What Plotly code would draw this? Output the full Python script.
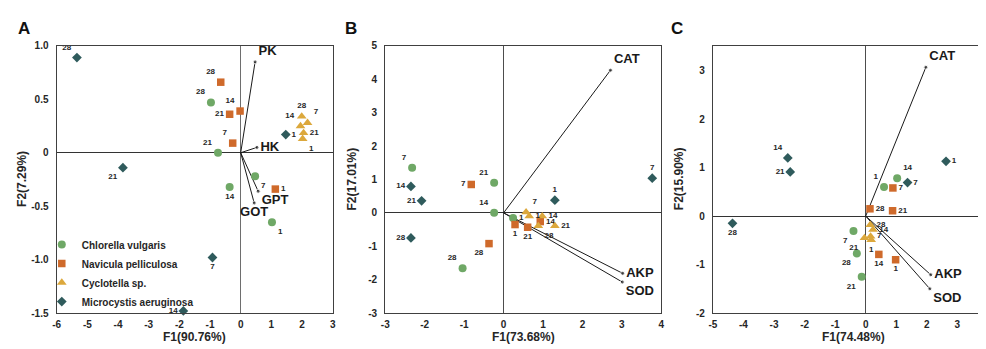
import plotly.graph_objects as go

days = [1, 7, 14, 21, 28]
series_names = ["Chlorella vulgaris", "Navicula pelliculosa", "Cyclotella sp.", "Microcystis aeruginosa"]

# ---- Panel A ----
chl_A_x = [1.02, 0.47, -0.36, -0.74, -0.97]
chl_A_y = [-0.65, -0.22, -0.32, 0.00, 0.47]
nav_A_x = [1.13, -0.26, -0.02, -0.36, -0.65]
nav_A_y = [-0.34, 0.09, 0.39, 0.36, 0.66]
cyc_A_x = [2.02, 2.18, 1.95, 2.05, 1.99]
cyc_A_y = [0.13, 0.28, 0.25, 0.185, 0.34]
mic_A_x = [1.47, -0.92, -1.87, -3.84, -5.34]
mic_A_y = [0.17, -0.98, -1.48, -0.14, 0.89]
vec_A_names = ["PK", "HK", "GPT", "GOT"]
vec_A_x = [0.47, 0.53, 0.57, 0.44]
vec_A_y = [0.85, 0.05, -0.36, -0.47]

# ---- Panel B ----
chl_B_x = [0.24, -2.32, -0.24, -0.24, -1.04]
chl_B_y = [-0.15, 1.35, 0.00, 0.90, -1.66]
nav_B_x = [0.29, -0.82, 0.93, 0.61, -0.37]
nav_B_y = [-0.35, 0.85, -0.26, -0.43, -0.92]
cyc_B_x = [0.65, 0.57, 0.98, 1.30, 0.88]
cyc_B_y = [-0.10, 0.02, -0.10, -0.39, -0.39]
mic_B_x = [1.30, 3.77, -2.35, -2.08, -2.35]
mic_B_y = [0.38, 1.04, 0.79, 0.36, -0.75]
vec_B_names = ["CAT", "AKP", "SOD"]
vec_B_x = [2.71, 3.02, 3.01]
vec_B_y = [4.27, -1.81, -2.07]

# ---- Panel C ----
chl_C_x = [0.60, -0.40, 1.03, -0.13, -0.29]
chl_C_y = [0.60, -0.31, 0.78, -1.25, -0.77]
nav_C_x = [0.98, 0.89, 0.43, 0.88, 0.14]
nav_C_y = [-0.90, 0.58, -0.79, 0.11, 0.15]
cyc_C_x = [0.18, 0.16, 0.24, -0.04, 0.15]
cyc_C_y = [-0.49, -0.42, -0.28, -0.45, -0.18]
mic_C_x = [2.63, 1.37, -2.55, -2.47, -4.36]
mic_C_y = [1.13, 0.69, 1.20, 0.91, -0.15]
vec_C_names = ["CAT", "AKP", "SOD"]
vec_C_x = [1.97, 2.13, 2.10]
vec_C_y = [3.07, -1.21, -1.50]

# axis ticks / titles
A_xticks = [-6, -5, -4, -3, -2, -1, 0, 1, 2, 3]
A_yticks = [-1.5, -1.0, -0.5, 0, 0.5, 1.0]
A_ytick_labels = ["-1.5", "-1.0", "-0.5", "0", "0.5", "1.0"]
B_xticks = [-3, -2, -1, 0, 1, 2, 3, 4]
B_yticks = [-3, -2, -1, 0, 1, 2, 3, 4, 5]
C_xticks = [-5, -4, -3, -2, -1, 0, 1, 2, 3, 4]
C_yticks = [-2, -1, 0, 1, 2, 3]
x_titles = ["F1(90.76%)", "F1(73.68%)", "F1(74.48%)"]
y_titles = ["F2(7.29%)", "F2(17.01%)", "F2(15.90%)"]
panel_letters = ["A", "B", "C"]

# ---- styles (separate from data) ----
FONT = "Liberation Sans, Arial, sans-serif"
colors = ["#6FA866", "#CF6A2B", "#DCA83C", "#2F5B5C"]
symbols = ["circle", "square", "triangle-up", "diamond"]
sizes = [8, 7.5, 8.5, 7.5]

pos_A = [
    ["bottom right", "bottom right", "bottom center", "top left", "top left"],
    ["middle right", "top left", "top left", "middle left", "top left"],
    ["bottom right", "top right", "top left", "middle right", "top center"],
    ["middle right", "bottom center", "middle left", "bottom left", "top left"],
]
pos_B = [
    ["middle right", "top left", "top left", "top left", "top left"],
    ["bottom center", "middle left", "middle right", "bottom center", "bottom left"],
    ["middle right", "top right", "middle right", "middle right", "bottom right"],
    ["top center", "top center", "middle left", "middle left", "middle left"],
]
pos_C = [
    ["top left", "bottom left", "top right", "bottom left", "bottom left"],
    ["bottom center", "middle right", "bottom center", "middle right", "middle right"],
    ["bottom center", "middle right", "middle right", "bottom left", "middle right"],
    ["middle right", "middle right", "top left", "middle left", "bottom center"],
]
vpos_A = ["top right", "middle right", "bottom right", "bottom center"]
vpos_B = ["top right", "middle right", "bottom right"]
vpos_C = ["top right", "middle right", "bottom right"]

panels = [
    dict(xa="x", ya="y",
         series=[(chl_A_x, chl_A_y), (nav_A_x, nav_A_y), (cyc_A_x, cyc_A_y), (mic_A_x, mic_A_y)],
         pos=pos_A, vnames=vec_A_names, vx=vec_A_x, vy=vec_A_y, vpos=vpos_A),
    dict(xa="x2", ya="y2",
         series=[(chl_B_x, chl_B_y), (nav_B_x, nav_B_y), (cyc_B_x, cyc_B_y), (mic_B_x, mic_B_y)],
         pos=pos_B, vnames=vec_B_names, vx=vec_B_x, vy=vec_B_y, vpos=vpos_B),
    dict(xa="x3", ya="y3",
         series=[(chl_C_x, chl_C_y), (nav_C_x, nav_C_y), (cyc_C_x, cyc_C_y), (mic_C_x, mic_C_y)],
         pos=pos_C, vnames=vec_C_names, vx=vec_C_x, vy=vec_C_y, vpos=vpos_C),
]

fig = go.Figure()
for pi, p in enumerate(panels):
    # loading vectors
    for name, vx, vy, tp in zip(p["vnames"], p["vx"], p["vy"], p["vpos"]):
        fig.add_trace(go.Scatter(
            x=[0, vx], y=[0, vy], xaxis=p["xa"], yaxis=p["ya"],
            mode="lines+markers+text", text=["", name], textposition=["middle right", tp],
            line=dict(color="#1a1a1a", width=1),
            marker=dict(size=[0, 4], color="#1a1a1a"),
            textfont=dict(family=FONT, size=13, color="#1a1a1a", weight="bold"),
            showlegend=False, hoverinfo="skip", cliponaxis=False))
    # sample points
    for si, (sx, sy) in enumerate(p["series"]):
        fig.add_trace(go.Scatter(
            x=sx, y=sy, xaxis=p["xa"], yaxis=p["ya"],
            mode="markers+text", name=series_names[si],
            text=[str(d) for d in days], textposition=p["pos"][si],
            marker=dict(symbol=symbols[si], size=sizes[si], color=colors[si],
                        line=dict(width=0)),
            textfont=dict(family=FONT, size=8, color="#262626", weight="bold"),
            showlegend=(pi == 0), legendgroup=series_names[si], cliponaxis=False))

# The page body adds an 8px margin, so the figure is drawn 8px smaller
# and all reference pixel positions are shifted by 8px.
W, H, OFF = 978, 341, 8


def px(v):
    return (v - OFF) / W


def py(v):
    return 1 - (v - OFF) / H


y_dom = [py(318), py(41)]
x_doms = [[px(53), px(331)], [px(384), px(662)], [px(714), 1.0]]
x_ranges = [[-6, 3], [-3, 4], [-5, 3.84]]
y_ranges = [[-1.5, 1.0], [-3, 5], [-2, 3.51]]
xtv = [A_xticks, B_xticks, C_xticks]
ytv = [A_yticks, B_yticks, C_yticks]
ytt = [A_ytick_labels, [str(v) for v in B_yticks], [str(v) for v in C_yticks]]

tickfont = dict(family=FONT, size=10, color="#262626", weight="bold")
layout = dict(
    width=W, height=H, margin=dict(l=0, r=0, t=0, b=0),
    paper_bgcolor="white", plot_bgcolor="white",
    font=dict(family=FONT, color="#262626"),
    showlegend=True,
    legend=dict(x=px(38), y=py(232), xanchor="left", yanchor="top",
                font=dict(family=FONT, size=10, color="#262626", weight="bold"),
                bgcolor="rgba(0,0,0,0)", itemwidth=30, tracegroupgap=0,
                traceorder="normal"),
)
for i in range(3):
    sx = "" if i == 0 else str(i + 1)
    layout["xaxis" + sx] = dict(
        domain=x_doms[i], range=x_ranges[i], anchor="y" + sx,
        tickvals=xtv[i], ticktext=[str(v) for v in xtv[i]], tickfont=tickfont,
        showgrid=False, zeroline=True, zerolinecolor="#6e6e6e" if i == 0 else "#4d4d4d",
        zerolinewidth=1.3, showline=True, linecolor="#404040", linewidth=1.3,
        mirror=True, ticks="", ticklabelstandoff=2, fixedrange=True)
    layout["yaxis" + sx] = dict(
        domain=y_dom, range=y_ranges[i], anchor="x" + sx,
        tickvals=ytv[i], ticktext=ytt[i], tickfont=tickfont,
        showgrid=False, zeroline=True, zerolinecolor="#333333",
        zerolinewidth=1.3, showline=True, linecolor="#404040", linewidth=1.3,
        mirror=True, ticks="", ticklabelstandoff=5, fixedrange=True)
fig.update_layout(**layout)

title_font = dict(family=FONT, size=12, color="#262626", weight="bold")
x_title_px = [192, 523, 856]
y_title_px = [18, 350, 680]
letter_px = [20, 349, 678]
ann = []
for i in range(3):
    ann.append(dict(text=x_titles[i], x=px(x_title_px[i]), y=py(342.5),
                    xref="paper", yref="paper", showarrow=False,
                    xanchor="center", yanchor="middle", font=title_font))
    ann.append(dict(text=y_titles[i], x=px(y_title_px[i]), y=py(179),
                    xref="paper", yref="paper", showarrow=False, textangle=-90,
                    xanchor="center", yanchor="middle", font=title_font))
    ann.append(dict(text=panel_letters[i], x=px(letter_px[i]), y=py(23),
                    xref="paper", yref="paper", showarrow=False,
                    xanchor="center", yanchor="middle",
                    font=dict(family=FONT, size=17, color="#111111", weight="bold")))
fig.update_layout(annotations=ann)

fig.write_html("out.html")
